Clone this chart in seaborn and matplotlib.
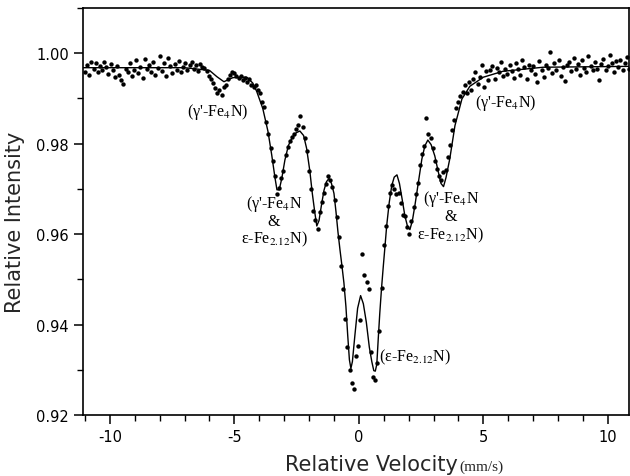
import numpy as np
import matplotlib
matplotlib.use("Agg")
import matplotlib.pyplot as plt
import seaborn as sns
from matplotlib.ticker import FixedLocator, MultipleLocator

# Channel velocities of the folded spectrum (mm/s), equally spaced
velocity_start = -11.0
velocity_stop = 10.85
n_channels = 256

# Measured relative transmission, one value per channel
intensity = [
    0.9958, 0.9975, 0.9952, 0.9980, 0.9966, 0.9978, 0.9958, 0.9972, 0.9962, 0.9981,
    0.9970, 0.9955, 0.9976, 0.9962, 0.9947, 0.9972, 0.9951, 0.9940, 0.9932, 0.9966,
    0.9958, 0.9979, 0.9950, 0.9962, 0.9984, 0.9957, 0.9970, 0.9946, 0.9988, 0.9965,
    0.9975, 0.9958, 0.9980, 0.9952, 0.9968, 0.9994, 0.9961, 0.9978, 0.9949, 0.9990,
    0.9971, 0.9956, 0.9976, 0.9964, 0.9983, 0.9959, 0.9970, 0.9978, 0.9962, 0.9975,
    0.9981, 0.9966, 0.9973, 0.9960, 0.9976, 0.9969, 0.9968, 0.9960, 0.9950, 0.9944,
    0.9935, 0.9922, 0.9912, 0.9918, 0.9908, 0.9925, 0.9930, 0.9944, 0.9952, 0.9958,
    0.9957, 0.9950, 0.9945, 0.9949, 0.9940, 0.9946, 0.9936, 0.9942, 0.9930, 0.9926,
    0.9930, 0.9918, 0.9912, 0.9893, 0.9880, 0.9849, 0.9822, 0.9790, 0.9762, 0.9728,
    0.9688, 0.9702, 0.9724, 0.9740, 0.9776, 0.9792, 0.9805, 0.9815, 0.9822, 0.9832,
    0.9842, 0.9862, 0.9836, 0.9812, 0.9784, 0.9740, 0.9700, 0.9652, 0.9632, 0.9611,
    0.9648, 0.9672, 0.9690, 0.9710, 0.9728, 0.9720, 0.9704, 0.9676, 0.9638, 0.9594,
    0.9530, 0.9478, 0.9412, 0.9350, 0.9300, 0.9270, 0.9258, 0.9330, 0.9352, 0.9410,
    0.9557, 0.9510, 0.9495, 0.9478, 0.9340, 0.9285, 0.9278, 0.9315, 0.9385, 0.9480,
    0.9575, 0.9618, 0.9662, 0.9690, 0.9708, 0.9700, 0.9688, 0.9692, 0.9668, 0.9642,
    0.9640, 0.9616, 0.9600, 0.9628, 0.9660, 0.9688, 0.9712, 0.9752, 0.9778, 0.9794,
    0.9856, 0.9822, 0.9812, 0.9790, 0.9762, 0.9745, 0.9728, 0.9720, 0.9738, 0.9742,
    0.9770, 0.9798, 0.9830, 0.9852, 0.9878, 0.9893, 0.9905, 0.9914, 0.9930, 0.9912,
    0.9936, 0.9918, 0.9942, 0.9958, 0.9931, 0.9948, 0.9975, 0.9925, 0.9960, 0.9940,
    0.9962, 0.9972, 0.9944, 0.9968, 0.9958, 0.9980, 0.9949, 0.9965, 0.9955, 0.9974,
    0.9960, 0.9945, 0.9978, 0.9966, 0.9952, 0.9986, 0.9970, 0.9942, 0.9975, 0.9962,
    0.9972, 0.9955, 0.9936, 0.9982, 0.9964, 0.9948, 0.9975, 0.9968, 1.0003, 0.9957,
    0.9978, 0.9962, 0.9985, 0.9950, 0.9970, 0.9938, 0.9974, 0.9980, 0.9960, 0.9990,
    0.9966, 0.9976, 0.9952, 0.9984, 0.9968, 0.9958, 0.9993, 0.9972, 0.9962, 0.9980,
    0.9965, 0.9940, 0.9976, 0.9988, 0.9962, 0.9972, 0.9996, 0.9978, 0.9959, 0.9982,
    0.9970, 0.9985, 0.9962, 0.9978, 0.9992, 0.9966,
]

# Fitted envelope (velocity, intensity)
fit_velocity = [
    -11.1, -7.0, -6.0, -5.7, -5.42, -5.06, -4.5, -4.26, -4.1, -3.86,
    -3.65, -3.5, -3.37, -3.29, -3.2, -3.1, -2.97, -2.83, -2.69, -2.52,
    -2.37, -2.22, -2.1, -1.97, -1.87, -1.77, -1.69, -1.6, -1.5, -1.4,
    -1.3, -1.2, -1.1, -1.0, -0.92, -0.84, -0.76, -0.68, -0.6, -0.52,
    -0.45, -0.38, -0.32, -0.26, -0.16, -0.05, 0.07, 0.18, 0.3, 0.42,
    0.52, 0.6, 0.66, 0.72, 0.78, 0.84, 0.91, 0.98, 1.04, 1.12,
    1.22, 1.32, 1.42, 1.53, 1.63, 1.73, 1.85, 1.95, 2.05, 2.15,
    2.25, 2.37, 2.53, 2.65, 2.77, 2.9, 3.05, 3.18, 3.3, 3.4,
    3.5, 3.65, 3.86, 4.14, 4.46, 5.0, 5.78, 7.4, 10.9,
]
fit_intensity = [
    0.9968, 0.9968, 0.9962, 0.9948, 0.9937, 0.9946, 0.9947, 0.9934, 0.9915, 0.9878,
    0.9827, 0.9775, 0.9725, 0.9698, 0.9698, 0.9722, 0.9764, 0.9796, 0.9812, 0.9824,
    0.9828, 0.9818, 0.9790, 0.9740, 0.9690, 0.9648, 0.9618, 0.9630, 0.9665, 0.9697,
    0.9716, 0.9723, 0.9712, 0.9690, 0.9650, 0.9605, 0.9566, 0.9530, 0.9492, 0.9440,
    0.9378, 0.9322, 0.9303, 0.9318, 0.9376, 0.9436, 0.9464, 0.9446, 0.9405, 0.9350,
    0.9318, 0.9298, 0.9297, 0.9312, 0.9370, 0.9425, 0.9480, 0.9528, 0.9567, 0.9620,
    0.9670, 0.9707, 0.9726, 0.9731, 0.9712, 0.9680, 0.9640, 0.9618, 0.9610, 0.9630,
    0.9663, 0.9707, 0.9766, 0.9795, 0.9808, 0.9798, 0.9773, 0.9740, 0.9712, 0.9705,
    0.9725, 0.9766, 0.9840, 0.9899, 0.9927, 0.9947, 0.9960, 0.9969, 0.9971,
]

x_ticks = [-10, -5, 0, 5, 10]
x_tick_labels = ["-10", "-5", "0", "5", "10"]
y_ticks = [0.92, 0.94, 0.96, 0.98, 1.00]
y_tick_labels = ["0.92", "0.94", "0.96", "0.98", "1.00"]

velocity = np.linspace(velocity_start, velocity_stop, n_channels)

sns.set_style("ticks")
plt.rcParams["font.family"] = ["DejaVu Sans"]
plt.rcParams["axes.unicode_minus"] = False
plt.rcParams["mathtext.fontset"] = "stix"

fig = plt.figure(figsize=(6.3, 4.77), dpi=100)
W, H = 630, 477
ax = fig.add_axes([83 / W, 1 - 416 / H, (629 - 83) / W, (416 - 9) / H])

sns.lineplot(x=fit_velocity, y=fit_intensity, ax=ax, color="black",
             linewidth=1.0, sort=False, estimator=None, zorder=2)
sns.scatterplot(x=velocity, y=intensity, ax=ax, color="black", s=10,
                linewidth=0, zorder=3)

ax.set_xlim(-11.08, 10.85)
ax.set_ylim(0.92, 1.01)
ax.xaxis.set_major_locator(FixedLocator(x_ticks))
ax.set_xticklabels(x_tick_labels)
ax.xaxis.set_minor_locator(MultipleLocator(1))
ax.yaxis.set_major_locator(FixedLocator(y_ticks))
ax.set_yticklabels(y_tick_labels)
ax.yaxis.set_minor_locator(MultipleLocator(0.01))
ax.tick_params(axis="both", which="major", direction="out", length=6.5,
               width=1.1, labelsize=10.5, color="black", labelcolor="black")
ax.tick_params(axis="both", which="minor", direction="out", length=4,
               width=1.0, color="black")
for side in ["left", "right", "top", "bottom"]:
    ax.spines[side].set_visible(True)
    ax.spines[side].set_linewidth(1.2)
    ax.spines[side].set_color("black")
ax.set_xlabel("")
ax.set_ylabel("")

# Axis titles
fig.text(15 / W, 1 - 222 / H, "Relative Intensity", rotation=90,
         ha="center", va="center", fontsize=15)
fig.text(458 / W, 1 - 471 / H, "Relative Velocity", ha="right",
         va="baseline", fontsize=15)
fig.text(459 / W, 1 - 471 / H, "(mm/s)", ha="left", va="baseline",
         fontsize=11, family="Liberation Serif")

# Phase assignments
serif = dict(family="Liberation Serif", fontsize=11.5, ha="center",
             va="center", color="black")
ax.text(-5.66, 0.98721, "(γ'-Fe$_4$N)", **serif)
ax.text(-3.41, 0.96296, "(γ'-Fe$_4$N\n&\nε-Fe$_{2.12}$N)",
        multialignment="center", linespacing=1.0, **serif)
ax.text(3.69, 0.96400, "(γ'-Fe$_4$N\n&\nε-Fe$_{2.12}$N)",
        multialignment="center", linespacing=1.0, **serif)
ax.text(5.9, 0.98920, "(γ'-Fe$_4$N)", **serif)
ax.text(2.27, 0.93297, "(ε-Fe$_{2.12}$N)", **serif)

fig.savefig("out.png", dpi=100)
